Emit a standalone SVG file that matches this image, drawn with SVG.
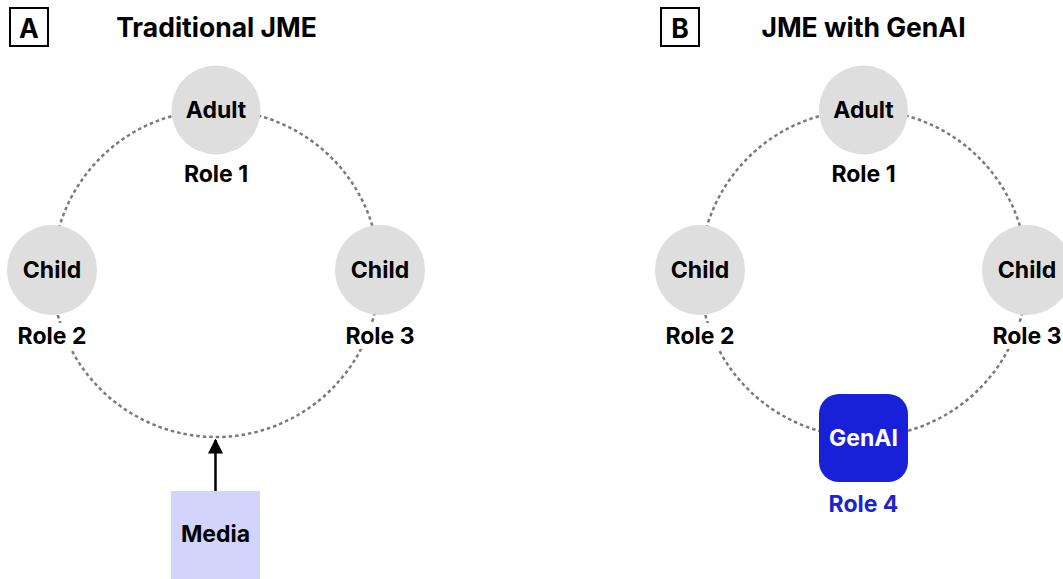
<svg xmlns="http://www.w3.org/2000/svg" width="1063" height="579" viewBox="0 0 1063 579">
<defs>
<style>
text{font-family:Inter,"Liberation Sans",sans-serif;font-weight:700;text-anchor:middle;dominant-baseline:central}
.ring{fill:none;stroke:#7a7a7a;stroke-width:2.5;stroke-dasharray:3.5 3}
.node{fill:#dedede}
.lbl{font-size:23px;fill:#000}
.bg{fill:#fff}
.title{font-size:26.5px;fill:#000}
.tag{fill:#fff;stroke:#000;stroke-width:2}
</style>
<marker id="arr" viewBox="0 0 10 10" refX="9" refY="5" markerWidth="6" markerHeight="6" markerUnits="strokeWidth" orient="auto">
<path d="M0,0L10,5L0,10z" fill="#000"/>
</marker>
</defs>
<rect width="1063" height="579" fill="#fff"/>
<g id="titles">
<rect class="tag" x="10" y="8" width="38" height="38"/>
<text class="title" x="29" y="28">A</text>
<text class="title" x="216.5" y="27">Traditional JME</text>
<rect class="tag" x="661" y="8" width="38" height="38"/>
<text class="title" x="680" y="28">B</text>
<text class="title" x="863.5" y="27">JME with GenAI</text>
</g>
<g id="connectors">
<circle class="ring" cx="216" cy="273.5" r="163.5"/>
<circle class="ring" cx="863.5" cy="273.5" r="163.5"/>
<line x1="215.5" y1="491" x2="215.5" y2="440" stroke="#000" stroke-width="2.5" marker-end="url(#arr)"/>
</g>
<g id="A-adult"><circle class="node" cx="216" cy="110" r="44.5"/><text class="lbl" x="216" y="110">Adult</text><rect class="bg" x="176" y="161" width="80" height="26"/><text class="lbl" x="216" y="174">Role 1</text></g>
<g id="A-child2"><circle class="node" cx="52" cy="270" r="45"/><text class="lbl" x="52" y="270">Child</text><rect class="bg" x="12" y="323" width="80" height="26"/><text class="lbl" x="52" y="336">Role 2</text></g>
<g id="A-child3"><circle class="node" cx="380" cy="270" r="45"/><text class="lbl" x="380" y="270">Child</text><rect class="bg" x="340" y="323" width="80" height="26"/><text class="lbl" x="380" y="336">Role 3</text></g>
<g id="A-media"><rect x="171" y="491" width="89" height="88" fill="#d2d4fb"/><text class="lbl" x="215.5" y="534">Media</text></g>
<g id="B-adult"><circle class="node" cx="863.5" cy="110" r="44.5"/><text class="lbl" x="863.5" y="110">Adult</text><rect class="bg" x="823" y="161" width="80" height="26"/><text class="lbl" x="863.5" y="174">Role 1</text></g>
<g id="B-child2"><circle class="node" cx="700" cy="270" r="45"/><text class="lbl" x="700" y="270">Child</text><rect class="bg" x="660" y="323" width="80" height="26"/><text class="lbl" x="700" y="336">Role 2</text></g>
<g id="B-child3"><circle class="node" cx="1027" cy="270" r="45"/><text class="lbl" x="1027" y="270">Child</text><rect class="bg" x="987" y="323" width="76" height="26"/><text class="lbl" x="1027" y="336">Role 3</text></g>
<g id="B-genai"><rect x="819" y="394" width="89" height="88" rx="20" fill="#1820d8"/><text class="lbl" x="863.5" y="438" style="fill:#fff">GenAI</text><text class="lbl" x="863.5" y="504" style="fill:#1c24d0">Role 4</text></g>
</svg>
